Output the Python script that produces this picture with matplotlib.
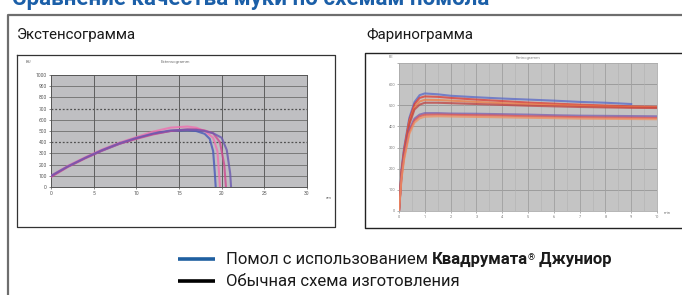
import matplotlib
matplotlib.use("Agg")
import matplotlib.pyplot as plt
import numpy as np

W, H = 682, 295
FONT = ['Roboto', 'DejaVu Sans']
plt.rcParams['font.family'] = FONT

# ---------------- data ----------------
header_text = "Сравнение качества муки по схемам помола"
left_title = "Экстенсограмма"
right_title = "Фаринограмма"
legend_labels = ["Помол с использованием ", "Квадрумата", "®", " Джуниор"]
legend_label2 = "Обычная схема изготовления"

# Extensogram (BU vs cm)
ext_xticks = [0, 5, 10, 15, 20, 25, 30]
ext_yticks = [0, 100, 200, 300, 400, 500, 600, 700, 800, 900, 1000]
ext_x1 = [0, 2, 4, 6, 8, 10, 12, 14, 16, 17, 18, 18.6, 19.0, 19.2, 19.3]
ext_y1 = [95, 185, 260, 325, 385, 435, 475, 500, 505, 500, 475, 430, 320, 120, 0]
ext_x2 = [0, 2, 4, 6, 8, 10, 12, 14, 16, 17, 18, 19.0, 19.5, 19.7, 19.8]
ext_y2 = [100, 190, 265, 335, 395, 445, 495, 530, 540, 530, 500, 440, 320, 120, 0]
ext_x3 = [0, 2, 4, 6, 8, 10, 12, 14, 16, 17, 18, 19, 19.8, 20.3, 20.5]
ext_y3 = [90, 180, 255, 325, 385, 430, 470, 500, 515, 515, 505, 480, 400, 200, 0]
ext_x4 = [0, 2, 4, 6, 8, 10, 12, 14, 16, 17, 18, 19, 20, 20.6, 21.0, 21.1]
ext_y4 = [100, 185, 260, 330, 390, 438, 478, 505, 512, 510, 500, 480, 440, 330, 120, 0]
ext_colors = ['#4858b8', '#f070b0', '#d04890', '#6a58b0']

# Farinogram (FU vs min)
far_xticks = list(range(0, 11))
far_yticks = [0, 100, 200, 300, 400, 500, 600, 700]
far_x = [0, 0.1, 0.2, 0.4, 0.6, 0.8, 1.0, 1.5, 2, 3, 4, 5, 6, 7, 8, 9, 10]
far_up1 = [0, 200, 300, 440, 515, 548, 556, 552, 545, 538, 532, 527, 522, 516, 512, 506, None]
far_up2 = [0, 190, 290, 430, 505, 535, 542, 540, 535, 527, 520, 513, 508, 503, 499, 495, 493]
far_up3 = [0, 185, 280, 420, 490, 518, 526, 525, 522, 516, 510, 505, 501, 497, 494, 491, 489]
far_up4 = [0, 180, 275, 410, 480, 503, 512, 512, 510, 506, 502, 498, 495, 492, 490, 488, 487]
far_lo1 = [0, 175, 265, 385, 437, 456, 463, 463, 461, 460, 458, 456, 453, 451, 450, 449, 448]
far_lo2 = [0, 165, 255, 375, 428, 448, 455, 456, 455, 453, 451, 448, 446, 444, 442, 441, 440]
far_lo3 = [0, 155, 245, 365, 418, 438, 446, 448, 447, 445, 443, 441, 439, 437, 436, 435, 434]
far_series = [far_up1, far_up2, far_up3, far_up4, far_lo1, far_lo2, far_lo3]
far_colors = ['#5868c8', '#e03a30', '#f07a40', '#c04040', '#7a60b0', '#e05050', '#f09060']

# ---------------- figure ----------------
fig = plt.figure(figsize=(W / 100, H / 100), dpi=100)
fig.patch.set_facecolor('white')

def px_axes(x0, y0, x1, y1, z=1):
    return fig.add_axes([x0 / W, 1 - y1 / H, (x1 - x0) / W, (y1 - y0) / H], zorder=z)

bg = px_axes(0, 0, W, H, z=0)
bg.set_xlim(0, W)
bg.set_ylim(H, 0)
bg.axis('off')

# header (cropped at top, as in the reference)
bg.text(12, 5, header_text, color='#1b5fa8', fontsize=16, fontweight='bold',
        va='baseline', ha='left')
# outer frame
bg.plot([8, 8, W + 5], [H + 5, 14.5, 14.5], color='#6e6e6e', lw=1.6, solid_capstyle='butt')

bg.text(17, 35, left_title, fontsize=10.8, va='center', ha='left', color='#1a1a1a')
bg.text(366, 35, right_title, fontsize=10.8, va='center', ha='left', color='#1a1a1a')

# panel frames
bg.plot([17, 335, 335, 17, 17], [55, 55, 227, 227, 55], color='#333333', lw=0.9)
bg.plot([W + 5, 365, 365, W + 5], [53, 53, 228, 228], color='#222222', lw=1.0)

# tiny chart captions
bg.text(28, 62, "BU", fontsize=3.2, color='#666666', va='center', ha='center')
bg.text(175, 62, "Extensogramm", fontsize=3.2, color='#777777', va='center', ha='center')
bg.text(329, 198, "cm", fontsize=3.2, color='#666666', va='center', ha='center')
bg.text(391, 57, "FE", fontsize=3.0, color='#777777', va='center', ha='center')
bg.text(528, 58, "Farinogramm", fontsize=3.0, color='#888888', va='center', ha='center')
bg.text(667, 213, "min", fontsize=3.0, color='#777777', va='center', ha='center')

# legend
FS = 12
bg.plot([178, 215], [259, 259], color='#1f5fa0', lw=2.6, solid_capstyle='butt')
bg.plot([178, 215], [281, 281], color='#000000', lw=2.6, solid_capstyle='butt')
t = bg.text(226, 259, legend_labels[0], fontsize=FS, va='center', ha='left', color='#1a1a1a')
fig.canvas.draw()
r = fig.canvas.get_renderer()
bb = t.get_window_extent(r)
ymid = (bb.y0 + bb.y1) / 2 / H
t2 = fig.text(bb.x1 / W, ymid, legend_labels[1], fontsize=FS, fontweight='bold',
              va='center', ha='left', color='#1a1a1a')
fig.canvas.draw()
bb2 = t2.get_window_extent(r)
t3 = fig.text((bb2.x1 - 0.5) / W, (bb.y1 - 2) / H, legend_labels[2], fontsize=6.5,
              va='top', ha='left', color='#1a1a1a')
fig.canvas.draw()
bb3 = t3.get_window_extent(r)
fig.text((bb3.x1 + 0.5) / W, ymid, legend_labels[3], fontsize=FS, fontweight='bold',
         va='center', ha='left', color='#1a1a1a')
bg.text(226, 282, legend_label2, fontsize=FS, va='center', ha='left', color='#1a1a1a')

# ---------- extensogram ----------
ax1 = px_axes(51, 75, 307, 187, z=2)
ax1.set_facecolor('#bfbfc2')
ax1.set_xlim(0, 30)
ax1.set_ylim(0, 1000)
ax1.set_xticks(ext_xticks)
ax1.set_yticks(ext_yticks)
ax1.tick_params(labelsize=3.6, colors='#555555', length=1.5, width=0.5, pad=1.5)
for yv in ext_yticks[1:-1]:
    if yv in (400, 700):
        ax1.axhline(yv, color='#505050', lw=0.9, ls=(0, (1.5, 1.5)), zorder=1)
    else:
        ax1.axhline(yv, color='#6e6e6e', lw=0.6, zorder=1)
for xv in ext_xticks[1:-1]:
    ax1.axvline(xv, color='#5e5e5e', lw=0.7, zorder=1)
for s in ax1.spines.values():
    s.set_color('#555555'); s.set_linewidth(0.7)
ext_xs = [ext_x1, ext_x2, ext_x3, ext_x4]
ext_ys = [ext_y1, ext_y2, ext_y3, ext_y4]
for xs, ys, c in zip(ext_xs, ext_ys, ext_colors):
    ax1.plot(xs, ys, color=c, lw=1.5, alpha=0.8, zorder=3)

# ---------- farinogram ----------
ax2 = px_axes(399, 63, 657, 211, z=2)
ax2.set_facecolor('#c4c4c4')
ax2.set_xlim(0, 10)
ax2.set_ylim(0, 700)
ax2.set_xticks(far_xticks)
ax2.set_yticks(far_yticks)
ax2.tick_params(labelsize=2.8, colors='#777777', length=1.2, width=0.4, pad=1.5)
ax2.set_yticklabels(['' if v == 700 else str(v) for v in far_yticks])
for yv in far_yticks[1:-1]:
    ax2.axhline(yv, color='#969696', lw=0.6, zorder=1)
for xv in far_xticks[1:-1]:
    ax2.axvline(xv, color='#a0a0a0', lw=0.6, zorder=1)
for xv in np.arange(0.5, 10, 1.0):
    ax2.axvline(xv, color='#b2b2b2', lw=0.4, zorder=1)
for s in ax2.spines.values():
    s.set_color('#aaaaaa'); s.set_linewidth(0.6)
for ys, c in zip(far_series, far_colors):
    xs = [xv for xv, yv in zip(far_x, ys) if yv is not None]
    yy = [yv for yv in ys if yv is not None]
    ax2.plot(xs, yy, color=c, lw=1.5, alpha=0.75, zorder=3)

fig.savefig('out.png', dpi=100)
